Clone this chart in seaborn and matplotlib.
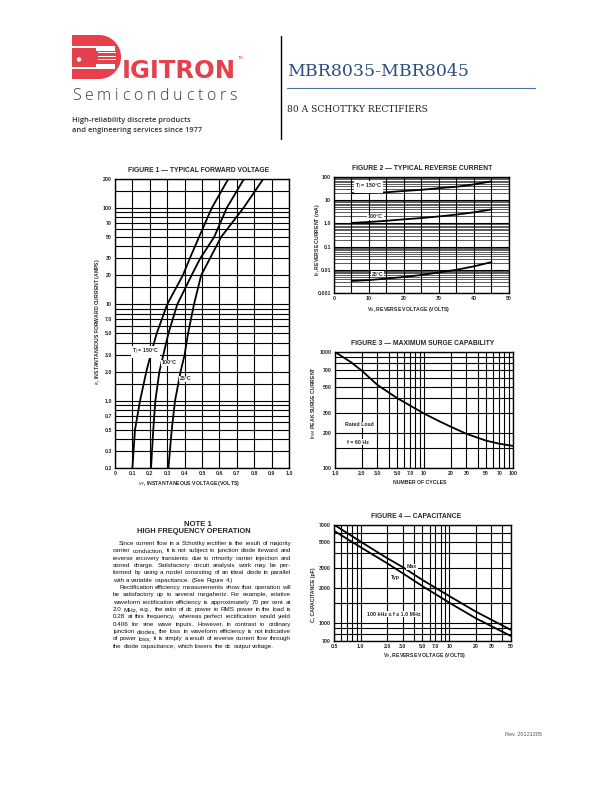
import numpy as np
import pandas as pd
import matplotlib
matplotlib.use("Agg")
import matplotlib.pyplot as plt
import seaborn as sns
from matplotlib.patches import Polygon, Circle, Rectangle
from matplotlib.ticker import FixedLocator, NullFormatter

sns.set_theme(style="white")
plt.rcParams['font.family'] = ['Liberation Sans', 'DejaVu Sans']

# ---------------- data ----------------
# Figure 1: typical forward voltage
fwd_current = [0.2, 0.5, 1, 2, 3, 5, 10, 20, 30, 50, 100, 200]
fwd_v_150 = [0.10, 0.115, 0.144, 0.18, 0.205, 0.24, 0.30, 0.39, 0.43, 0.483, 0.556, 0.651]
fwd_v_100 = [0.207, 0.22, 0.232, 0.255, 0.278, 0.307, 0.358, 0.44, 0.49, 0.57, 0.642, 0.741]
fwd_v_25 = [0.307, 0.326, 0.345, 0.377, 0.40, 0.42, 0.454, 0.495, 0.546, 0.61, 0.738, 0.852]
fig1_x_ticks = [0, 0.1, 0.2, 0.3, 0.4, 0.5, 0.6, 0.7, 0.8, 0.9, 1.0]
fig1_x_labels = ['0', '0.1', '0.2', '0.3', '0.4', '0.5', '0.6', '0.7', '0.8', '0.9', '1.0']
fig1_y_ticks = [0.2, 0.3, 0.5, 0.7, 1, 2, 3, 5, 7, 10, 20, 30, 50, 70, 100, 200]
fig1_y_labels = ['0.2', '0.3', '0.5', '0.7', '1.0', '2.0', '3.0', '5.0', '7.0', '10', '20', '30', '50', '70', '100', '200']
fig1_y_minor = [0.4, 0.6, 0.8, 0.9, 1.5, 4, 6, 8, 9, 15, 40, 60, 80, 90, 150]

# Figure 2: typical reverse current
rev_voltage = [5, 10, 15, 20, 25, 30, 35, 40, 45]
rev_i_150 = [20, 21, 22, 25, 28, 33, 38, 48, 65]
rev_i_100 = [1.05, 1.15, 1.3, 1.5, 1.7, 2.0, 2.4, 3.0, 4.0]
rev_i_25 = [0.0033, 0.0036, 0.0042, 0.0049, 0.006, 0.0077, 0.010, 0.0141, 0.0215]
fig2_x_ticks = [0, 10, 20, 30, 40, 50]
fig2_x_minor = [5, 15, 25, 35, 45]
fig2_y_ticks = [0.001, 0.01, 0.1, 1, 10, 100]
fig2_y_labels = ['0.001', '0.01', '0.1', '1.0', '10', '100']

# Figure 3: maximum surge capability
surge_cycles = [1, 1.5, 2, 3, 5, 7, 10, 15, 20, 30, 50, 70, 100]
surge_current = [1000, 820, 690, 520, 400, 345, 295, 252, 227, 197, 172, 162, 155]
fig3_x_ticks = [1, 2, 3, 5, 7, 10, 20, 30, 50, 70, 100]
fig3_x_labels = ['1.0', '2.0', '3.0', '5.0', '7.0', '10', '20', '30', '50', '70', '100']
fig3_x_minor = [4, 6, 8, 9, 40, 60, 80, 90]
fig3_y_ticks = [100, 200, 300, 500, 700, 1000]
fig3_y_minor = [150, 400, 600, 800, 900]

# Figure 4: capacitance
cap_voltage = [0.5, 1, 2, 3, 5, 10, 20, 50]
cap_max = [7050, 5030, 3620, 3030, 2350, 1710, 1255, 871]
cap_typ = [6250, 4500, 3270, 2680, 2078, 1500, 1100, 772]
fig4_x_ticks = [0.5, 1, 2, 3, 5, 7, 10, 20, 30, 50]
fig4_x_labels = ['0.5', '1.0', '2.0', '3.0', '5.0', '7.0', '10', '20', '30', '50']
fig4_x_minor = [0.6, 0.7, 0.8, 0.9, 4, 6, 8, 9, 40]
fig4_y_ticks = [700, 1000, 2000, 3000, 5000, 7000]
fig4_y_minor = [800, 900, 1500, 4000, 6000]

note_title = "NOTE 1"
note_subtitle = "HIGH FREQUENCY OPERATION"
note_paragraphs = [
    ["Since current flow in a Schottky rectifier is the result of majority",
     "carrier conduction, it is not subject to junction diode forward and",
     "reverse recovery transients due to minority carrier injection and",
     "stored charge. Satisfactory circuit analysis work may be per-",
     "formed by using a model consisting of an ideal diode in parallel",
     "with a variable capacitance. (See Figure 4.)"],
    ["Rectification efficiency measurements show that operation will",
     "be satisfactory up to several megahertz. For example, relative",
     "waveform rectification efficiency is approximately 70 per cent at",
     "2.0 MHz, e.g., the ratio of dc power to RMS power in the load is",
     "0.28 at this frequency, whereas perfect rectification would yield",
     "0.406 for sine wave inputs. However, in contrast to ordinary",
     "junction diodes, the loss in waveform efficiency is not indicative",
     "of power loss; it is simply a result of reverse current flow through",
     "the diode capacitance, which lowers the dc output voltage."],
]

# ---------------- figure ----------------
W, H = 612, 792
fig = plt.figure(figsize=(W / 100, H / 100), dpi=100)
fig.patch.set_facecolor('white')


def ax_at(x0, y0, x1, y1):
    return fig.add_axes([x0 / W, 1 - y1 / H, (x1 - x0) / W, (y1 - y0) / H])


TICK_FS = 3.8
GRID_LW = 0.8
CURVE_LW = 1.3


def style(ax, xlog, ylog, xlim, ylim, xt, xl, xm, yt, yl, ym):
    if xlog:
        ax.set_xscale('log')
    if ylog:
        ax.set_yscale('log')
    ax.set_xlim(*xlim)
    ax.set_ylim(*ylim)
    ax.xaxis.set_major_locator(FixedLocator(xt))
    ax.set_xticklabels(xl)
    ax.xaxis.set_minor_locator(FixedLocator(xm))
    ax.xaxis.set_minor_formatter(NullFormatter())
    ax.yaxis.set_major_locator(FixedLocator(yt))
    ax.set_yticklabels(yl)
    ax.yaxis.set_minor_locator(FixedLocator(ym))
    ax.yaxis.set_minor_formatter(NullFormatter())
    ax.grid(True, which='both', color='black', lw=GRID_LW)
    ax.tick_params(which='both', length=0, labelsize=TICK_FS, pad=2.2)
    for lab in ax.get_xticklabels() + ax.get_yticklabels():
        lab.set_fontweight('bold')
    for s in ax.spines.values():
        s.set_color('black')
        s.set_linewidth(1.0)
    ax.set_xlabel('')
    ax.set_ylabel('')


# Figure 1
ax1 = ax_at(115, 179, 289, 468)
for v in (fwd_v_150, fwd_v_100, fwd_v_25):
    sns.lineplot(x=v, y=fwd_current, ax=ax1, color='black', lw=CURVE_LW,
                 sort=False, estimator=None)
style(ax1, False, True, (0, 1.0), (0.2, 200), fig1_x_ticks, fig1_x_labels, [],
      fig1_y_ticks, fig1_y_labels, fig1_y_minor)

# Figure 2
ax2 = ax_at(334, 177, 509, 293)
for cur in (rev_i_150, rev_i_100, rev_i_25):
    sns.lineplot(x=rev_voltage, y=cur, ax=ax2, color='black', lw=CURVE_LW,
                 sort=False, estimator=None)
fig2_y_minor = [d * k for d in (0.001, 0.01, 0.1, 1, 10) for k in (2, 3, 4, 5, 6, 7, 8, 9)]
style(ax2, False, True, (0, 50), (0.001, 100), fig2_x_ticks,
      [str(t) for t in fig2_x_ticks], fig2_x_minor,
      fig2_y_ticks, fig2_y_labels, fig2_y_minor)
ax2.grid(True, which='minor', axis='y', color='black', lw=0.45)

# Figure 3
ax3 = ax_at(335, 352, 513, 468)
sns.lineplot(x=surge_cycles, y=surge_current, ax=ax3, color='black', lw=CURVE_LW,
             sort=False, estimator=None)
style(ax3, True, True, (1, 100), (100, 1000), fig3_x_ticks, fig3_x_labels, fig3_x_minor,
      fig3_y_ticks, [str(t) for t in fig3_y_ticks], fig3_y_minor)

# Figure 4
ax4 = ax_at(334, 525, 511, 641)
for c in (cap_max, cap_typ):
    sns.lineplot(x=cap_voltage, y=c, ax=ax4, color='black', lw=CURVE_LW,
                 sort=False, estimator=None)
style(ax4, True, True, (0.5, 50), (700, 7000), fig4_x_ticks, fig4_x_labels, fig4_x_minor,
      fig4_y_ticks, [str(t) for t in fig4_y_ticks], fig4_y_minor)

# ---------------- overlay (pixel coordinates) ----------------
ov = fig.add_axes([0, 0, 1, 1], zorder=10)
ov.set_xlim(0, W)
ov.set_ylim(H, 0)
ov.axis('off')
ov.patch.set_alpha(0)
renderer = fig.canvas.get_renderer()

RED = '#E5404B'
# logo "D" shape
t = np.linspace(np.pi / 2, -np.pi / 2, 50)
cx, cy, r = 99, 57, 22
d_pts = [(72, 35)] + [(cx + r * np.cos(a), cy - r * np.sin(a)) for a in t] + [(72, 79)]
ov.add_patch(Polygon(d_pts, closed=True, fc=RED, ec='none'))
ov.add_patch(Rectangle((72, 45.5), 26, 2.0, fc='white', ec='none'))
ov.add_patch(Rectangle((72, 66.5), 26, 2.0, fc='white', ec='none'))
ov.add_patch(Rectangle((96, 45.5), 18.5, 23, fc='white', ec='none'))
ov.add_patch(Rectangle((95, 50.5), 21, 13, fc=RED, ec='none'))
for yy in (52.4, 55.7, 59.0):
    ov.add_patch(Rectangle((97.5, yy), 18.5, 1.0, fc='white', ec='none'))
ov.add_patch(Circle((79, 59.5), 2.2, fc='white', ec='none'))
ov.text(121.5, 71.5, "IGITRON", color=RED, fontsize=17.5, fontweight='bold',
        ha='left', va='center', family=['DejaVu Sans'])
ov.text(238, 58, "TM", color=RED, fontsize=2.8, ha='left', va='center')

semi = "Semiconductors"
SEMI_FS = 11.5
objs = []
widths = []
for ch in semi:
    tt = ov.text(0, 96.5, ch, fontsize=SEMI_FS, color='#3a3a3a', ha='left', va='center',
                 family=['Open Sans', 'DejaVu Sans'], fontweight='light')
    objs.append(tt)
    widths.append(tt.get_window_extent(renderer=renderer).width)
track = (237 - 72 - sum(widths)) / (len(semi) - 1)
xc = 72
for tt, wdt in zip(objs, widths):
    tt.set_x(xc)
    xc += wdt + track

ov.text(72, 120, "High-reliability discrete products", fontsize=5.4, color='#333333',
        ha='left', va='center', family=['Open Sans', 'DejaVu Sans'], fontweight='semibold')
ov.text(72, 131, "and engineering services since 1977", fontsize=5.4, color='#333333',
        ha='left', va='center', family=['Open Sans', 'DejaVu Sans'], fontweight='semibold')

ov.plot([281, 281], [36, 139], color='black', lw=1.0)
BLUE = '#2E4D7E'
ov.text(287, 71, "MBR8035-MBR8045", fontsize=12.5, color=BLUE, ha='left', va='center',
        family=['DejaVu Serif'])
ov.plot([287, 535], [87.5, 87.5], color='#4A6FA5', lw=0.8)
ov.text(287, 110, "80 A SCHOTTKY RECTIFIERS", fontsize=6.6, color='#222222', ha='left',
        va='center', family=['DejaVu Serif'])

# chart titles
TITLE_FS = 4.9
ov.text(198.5, 170, "FIGURE 1 \u2014 TYPICAL FORWARD VOLTAGE", fontsize=TITLE_FS,
        fontweight='bold', ha='center', va='center')
ov.text(422, 169, "FIGURE 2 \u2014 TYPICAL REVERSE CURRENT", fontsize=TITLE_FS,
        fontweight='bold', ha='center', va='center')
ov.text(423, 343.5, "FIGURE 3 \u2014 MAXIMUM SURGE CAPABILITY", fontsize=TITLE_FS,
        fontweight='bold', ha='center', va='center')
ov.text(416, 516.5, "FIGURE 4 \u2014 CAPACITANCE", fontsize=TITLE_FS,
        fontweight='bold', ha='center', va='center')

# axis labels
LAB_FS = 3.7
ov.text(189, 483, r"$v_F$, INSTANTANEOUS VOLTAGE (VOLTS)", fontsize=LAB_FS,
        fontweight='bold', ha='center', va='center')
ov.text(97, 322, r"$i_F$, INSTANTANEOUS FORWARD CURRENT (AMPS)", fontsize=LAB_FS,
        fontweight='bold', ha='center', va='center', rotation=90)
ov.text(409, 309, r"V$_R$, REVERSE VOLTAGE (VOLTS)", fontsize=LAB_FS,
        fontweight='bold', ha='center', va='center')
ov.text(317, 240, r"I$_R$, REVERSE CURRENT (mA)", fontsize=LAB_FS,
        fontweight='bold', ha='center', va='center', rotation=90)
ov.text(420, 483, "NUMBER OF CYCLES", fontsize=LAB_FS,
        fontweight='bold', ha='center', va='center')
ov.text(314, 403, r"I$_{FSM}$ PEAK SURGE CURRENT", fontsize=LAB_FS,
        fontweight='bold', ha='center', va='center', rotation=90)
ov.text(425, 656, r"V$_R$, REVERSE VOLTAGE (VOLTS)", fontsize=LAB_FS,
        fontweight='bold', ha='center', va='center')
ov.text(314, 595, "C, CAPACITANCE (pF)", fontsize=LAB_FS,
        fontweight='bold', ha='center', va='center', rotation=90)

# curve labels
box = dict(fc='white', ec='none', pad=0.4)
ANN_FS = 3.8
ov.text(132, 352, r"T$_J$ = 150°C", fontsize=ANN_FS, fontweight='bold', ha='left', va='center', bbox=box)
ov.text(162, 363, "100°C", fontsize=ANN_FS, fontweight='bold', ha='left', va='center', bbox=box)
ov.text(180, 379, "25°C", fontsize=ANN_FS, fontweight='bold', ha='left', va='center', bbox=box)
ov.text(355, 187, r"T$_J$ = 150°C", fontsize=ANN_FS, fontweight='bold', ha='left', va='center', bbox=box)
ov.text(368, 217, "100°C", fontsize=ANN_FS, fontweight='bold', ha='left', va='center', bbox=box)
ov.text(372, 274, "25°C", fontsize=ANN_FS, fontweight='bold', ha='left', va='center', bbox=box)
ov.text(345, 425, "Rated Load", fontsize=ANN_FS, fontweight='bold', ha='left', va='center', bbox=box)
ov.text(347, 442, "f = 60 Hz", fontsize=ANN_FS, fontweight='bold', ha='left', va='center', bbox=box)
ov.text(407, 567, "Max", fontsize=ANN_FS, fontweight='bold', ha='left', va='center', bbox=box)
ov.text(391, 577, "Typ", fontsize=ANN_FS, fontweight='bold', ha='left', va='center', bbox=box)
ov.text(367, 614, "100 kHz \u2264 f \u2264 1.0 MHz", fontsize=ANN_FS, fontweight='bold', ha='left',
        va='center', bbox=box)

# note text
ov.text(198, 524, note_title, fontsize=5.6, fontweight='bold', ha='center', va='center')
ov.text(194, 531.5, note_subtitle, fontsize=5.4, fontweight='bold', ha='center', va='center')

BODY_FS = 4.5
x_left, x_right, indent = 113, 291, 6
y = 543.5
step = 7.34
for para in note_paragraphs:
    for li, line in enumerate(para):
        words = line.split()
        xs = x_left + (indent if li == 0 else 0)
        last = li == len(para) - 1
        tw = []
        objs = []
        for w in words:
            tt = ov.text(0, y, w, fontsize=BODY_FS, ha='left', va='center', color='#111111')
            objs.append(tt)
            tw.append(tt.get_window_extent(renderer=renderer).width)
        if last:
            gap = BODY_FS * 100 / 72 * 0.28
        else:
            gap = (x_right - xs - sum(tw)) / max(len(words) - 1, 1)
        xc = xs
        for tt, wdt in zip(objs, tw):
            tt.set_x(xc)
            xc += wdt + gap
        y += step

ov.text(523, 735, "Rev. 20121205", fontsize=4.0, color='#555555', ha='center', va='center')

fig.savefig("out.png", dpi=100, facecolor='white')
